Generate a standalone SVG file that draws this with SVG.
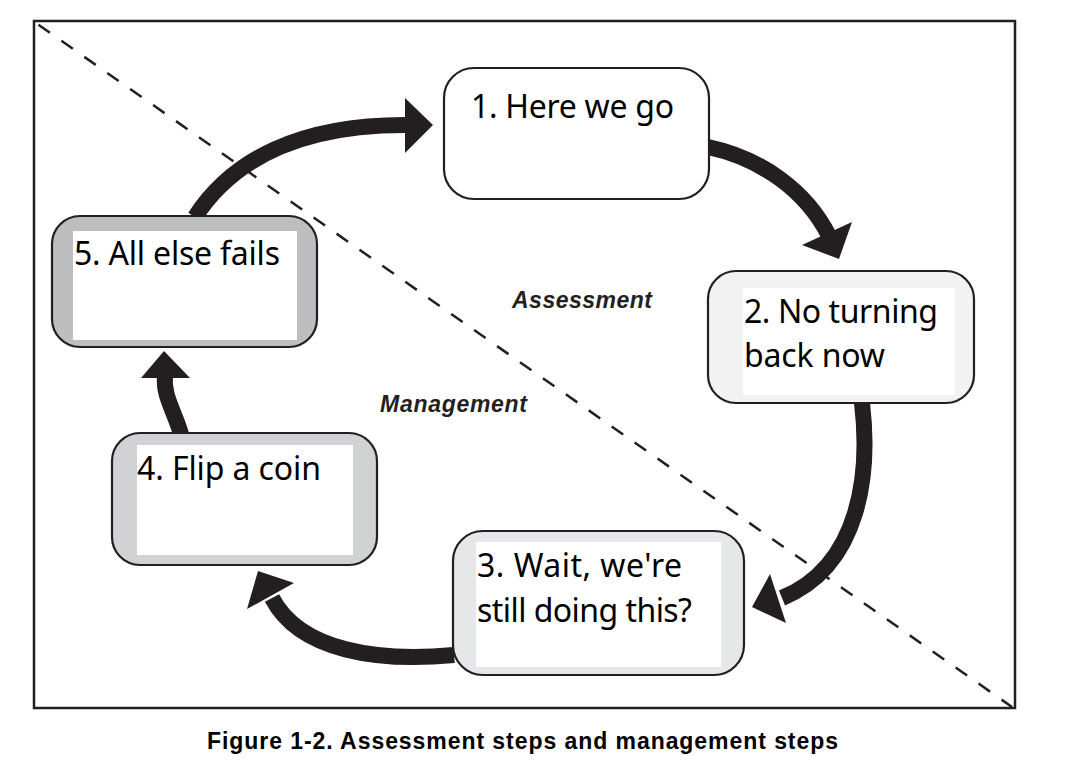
<svg xmlns="http://www.w3.org/2000/svg" width="1088" height="774" viewBox="0 0 1088 774">
<style>
.frame{fill:none;stroke:#231f20;stroke-width:2.5}
.divider{fill:none;stroke:#231f20;stroke-width:2.5;stroke-dasharray:14 14}
.box{stroke:#231f20;stroke-width:2.2}
.inner{fill:#ffffff}
.shaft{fill:none;stroke:#231f20;stroke-width:16;stroke-linecap:butt}
.head{fill:#231f20}
.lbl{font-family:"Noto Sans","Open Sans",sans-serif;font-size:32px;fill:#000}
.zone{font-family:"Liberation Sans",Arial,sans-serif;font-size:23px;font-weight:bold;font-style:italic;fill:#231f20}
.cap{font-family:"Liberation Sans",Arial,sans-serif;font-size:23px;font-weight:bold;fill:#000}
</style>
<rect x="0" y="0" width="1088" height="774" fill="#ffffff"/>
<rect class="frame" x="34" y="21" width="981" height="687"/>

<g id="connectors">
  <path class="shaft" d="M 195 217 C 232 160, 300 124, 409 125"/>
  <polygon class="head" points="405,98 433,125 405,153"/>
  <path class="shaft" d="M 708 147 C 760 158, 806 190, 829 236"/>
  <polygon class="head" points="802,245 852,222 839,259"/>
  <path class="shaft" d="M 862 403 C 870 470, 862 565, 782 598"/>
  <polygon class="head" points="770,574 786,623 752,607"/>
  <path class="shaft" d="M 454 655 C 380 662, 300 652, 272 598"/>
  <polygon class="head" points="258,571 247,609 294,583"/>
  <path class="shaft" d="M 181 434 C 174 410, 163 396, 165 376"/>
  <polygon class="head" points="141,378 164,351 190,378"/>
</g>

<line class="divider" x1="36" y1="23" x2="1012" y2="707" stroke-dashoffset="-3"/>

<g id="node1">
  <rect class="box" x="444" y="68" width="265" height="131" rx="30" fill="#ffffff"/>
  <text class="lbl" x="471" y="118" textLength="203">1. Here we go</text>
</g>

<g id="node2">
  <rect class="box" x="708" y="271" width="266" height="132" rx="28" fill="#f2f2f2"/>
  <rect class="inner" x="743" y="288" width="212" height="107"/>
  <text class="lbl" x="744" y="323" textLength="194">2. No turning</text>
  <text class="lbl" x="744" y="367" textLength="141">back now</text>
</g>

<g id="node3">
  <path d="M 587 535 A 6 5 0 0 1 599 535 Z" fill="#231f20"/>
  <rect class="box" x="453" y="531" width="291" height="144" rx="30" fill="#e6e7e8"/>
  <rect class="inner" x="476" y="542" width="245" height="125"/>
  <text class="lbl" x="477" y="577" textLength="205">3. Wait, we're</text>
  <text class="lbl" x="477" y="622" textLength="215">still doing this?</text>
</g>

<g id="node4">
  <rect class="box" x="112" y="433" width="265" height="132" rx="28" fill="#d1d2d4"/>
  <rect class="inner" x="137" y="445" width="216" height="110"/>
  <text class="lbl" x="137" y="480" textLength="184">4. Flip a coin</text>
</g>

<g id="node5">
  <rect class="box" x="52" y="216" width="265" height="131" rx="28" fill="#bcbec0"/>
  <rect class="inner" x="73" y="231" width="224" height="109"/>
  <text class="lbl" x="74" y="265" textLength="206">5. All else fails</text>
</g>

<text class="zone" x="512" y="308" textLength="140">Assessment</text>
<text class="zone" x="380" y="412" textLength="147">Management</text>

<text class="cap" x="207" y="749" textLength="631">Figure 1-2. Assessment steps and management steps</text>
</svg>
